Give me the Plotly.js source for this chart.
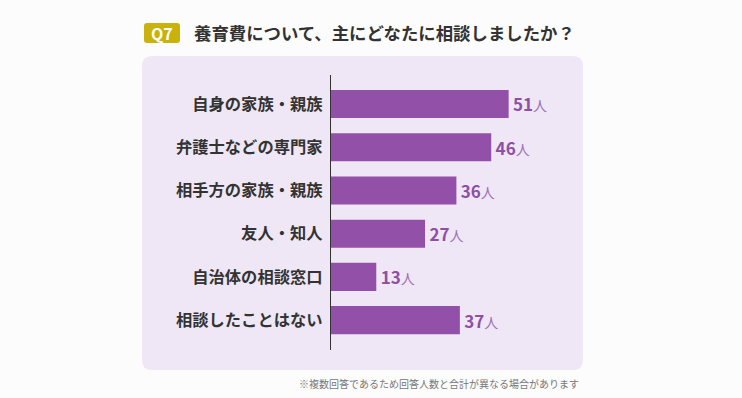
<!DOCTYPE html>
<html>
<head>
<meta charset="utf-8">
<script src="https://cdn.plot.ly/plotly-3.0.1.min.js"></script>
<style>
html,body{margin:0;padding:0;background:#fcfcfc;}
#chart{width:742px;height:398px;}
</style>
</head>
<body>
<div id="chart"></div>
<script>
const categories = ["自身の家族・親族","弁護士などの専門家","相手方の家族・親族","友人・知人","自治体の相談窓口","相談したことはない"];
const values = [51, 46, 36, 27, 13, 37];
const unit = "人";
const questionNo = "Q7";
const titleText = "養育費について、主にどなたに相談しましたか？";
const footnote = "※複数回答であるため回答人数と合計が異なる場合があります";

const W = 742, H = 398;
const M = {l: 331, r: 202, t: 75, b: 48};
const pw = W - M.l - M.r, ph = H - M.t - M.b;
const px = x => (x - M.l) / pw;
const py = y => 1 - (y - M.t) / ph;

function roundRect(x0, y0, x1, y1, r) {
  const X0 = px(x0), X1 = px(x1), Y0 = py(y0), Y1 = py(y1);
  const rx = r / pw, ry = r / ph;
  return `M${X0 + rx},${Y0} L${X1 - rx},${Y0} Q${X1},${Y0} ${X1},${Y0 - ry} ` +
         `L${X1},${Y1 + ry} Q${X1},${Y1} ${X1 - rx},${Y1} L${X0 + rx},${Y1} ` +
         `Q${X0},${Y1} ${X0},${Y1 + ry} L${X0},${Y0 - ry} Q${X0},${Y0} ${X0 + rx},${Y0} Z`;
}

const FONT = '"Noto Sans CJK JP", "Noto Sans", sans-serif';
const barColor = '#9350a8';

const trace = {
  type: 'bar',
  orientation: 'h',
  x: values,
  y: categories,
  marker: {color: barColor},
  text: values.map(v => `<span style="font-size:6px"> </span><b>${v}</b><span style="font-size:14px;color:#a070b8">${unit}</span>`),
  texttemplate: '%{text}',
  textposition: 'outside',
  cliponaxis: false,
  textfont: {family: FONT, size: 17, color: '#8e4fa5'},
  hoverinfo: 'none'
};

const layout = {
  width: W, height: H,
  margin: M,
  paper_bgcolor: '#fcfcfc',
  plot_bgcolor: 'rgba(0,0,0,0)',
  bargap: 0.35,
  showlegend: false,
  font: {family: FONT},
  xaxis: {range: [0, 60], visible: false, fixedrange: true},
  yaxis: {
    type: 'category',
    range: [5.69, -0.67],
    showline: true, linecolor: '#333', linewidth: 1.2,
    showgrid: false, zeroline: false, ticks: '',
    ticklabelstandoff: 4,
    tickfont: {family: FONT, size: 16.3, color: '#333', weight: 'bold'},
    fixedrange: true
  },
  shapes: [
    {type: 'path', xref: 'paper', yref: 'paper', path: roundRect(142, 56, 583, 370, 10),
     fillcolor: '#efe7f5', line: {width: 0}, layer: 'below'},
    {type: 'path', xref: 'paper', yref: 'paper', path: roundRect(144, 23, 180, 43, 3),
     fillcolor: '#c9b20a', line: {width: 0}, layer: 'below'}
  ],
  annotations: [
    {xref: 'paper', yref: 'paper', x: px(162), y: py(33), text: '<b>' + questionNo + '</b>',
     showarrow: false, xanchor: 'center', yanchor: 'middle',
     font: {family: FONT, size: 16, color: '#ffffff'}},
    {xref: 'paper', yref: 'paper', x: px(192), y: py(33), text: '<b>' + titleText + '</b>',
     showarrow: false, xanchor: 'left', yanchor: 'middle',
     font: {family: FONT, size: 17.4, color: '#333333'}},
    {xref: 'paper', yref: 'paper', x: px(581), y: py(383), text: footnote,
     showarrow: false, xanchor: 'right', yanchor: 'middle',
     font: {family: FONT, size: 10, color: '#777777'}}
  ]
};

Plotly.newPlot('chart', [trace], layout, {staticPlot: true, displayModeBar: false});
</script>
</body>
</html>
